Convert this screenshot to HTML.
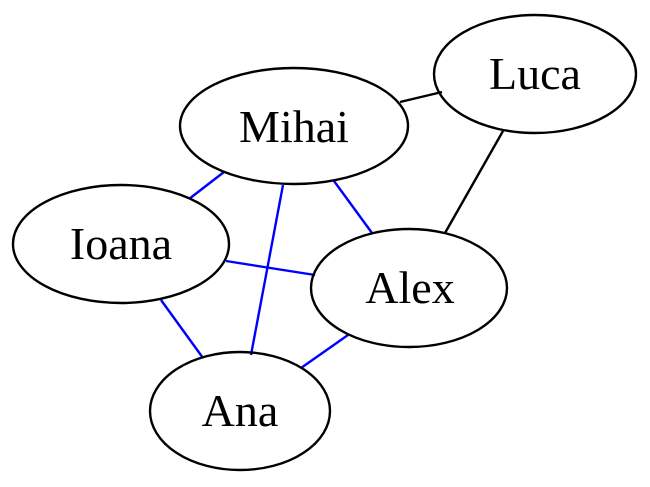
<!DOCTYPE html>
<html><head><style>body{margin:0;background:#fff}svg{display:block}</style></head>
<body>
<svg width="650" height="487" xmlns="http://www.w3.org/2000/svg">
<g stroke-width="2.4" fill="none">
<line x1="400" y1="102" x2="442" y2="92" stroke="#000"/>
<line x1="503" y1="131" x2="445" y2="233" stroke="#000"/>
<line x1="224" y1="172" x2="189" y2="199" stroke="#00f"/>
<line x1="334" y1="181" x2="372" y2="233" stroke="#00f"/>
<line x1="283" y1="185" x2="251" y2="355" stroke="#00f"/>
<line x1="226" y1="261" x2="315" y2="275" stroke="#00f"/>
<line x1="161" y1="300" x2="203" y2="358" stroke="#00f"/>
<line x1="348" y1="335" x2="301" y2="368" stroke="#00f"/>
<g stroke="#000">
<ellipse cx="294" cy="126" rx="114" ry="58"/>
<ellipse cx="535" cy="74" rx="101" ry="59"/>
<ellipse cx="121" cy="244" rx="108" ry="59"/>
<ellipse cx="409" cy="288" rx="98" ry="59"/>
<ellipse cx="240" cy="411" rx="90" ry="59"/>
</g></g>
<g font-family="Liberation Serif, serif" font-size="46" text-anchor="middle" fill="#000">
<text x="294" y="142">Mihai</text>
<text x="535" y="89">Luca</text>
<text x="121" y="259">Ioana</text>
<text x="410" y="303">Alex</text>
<text x="240" y="426">Ana</text>
</g>
</svg>
</body></html>
